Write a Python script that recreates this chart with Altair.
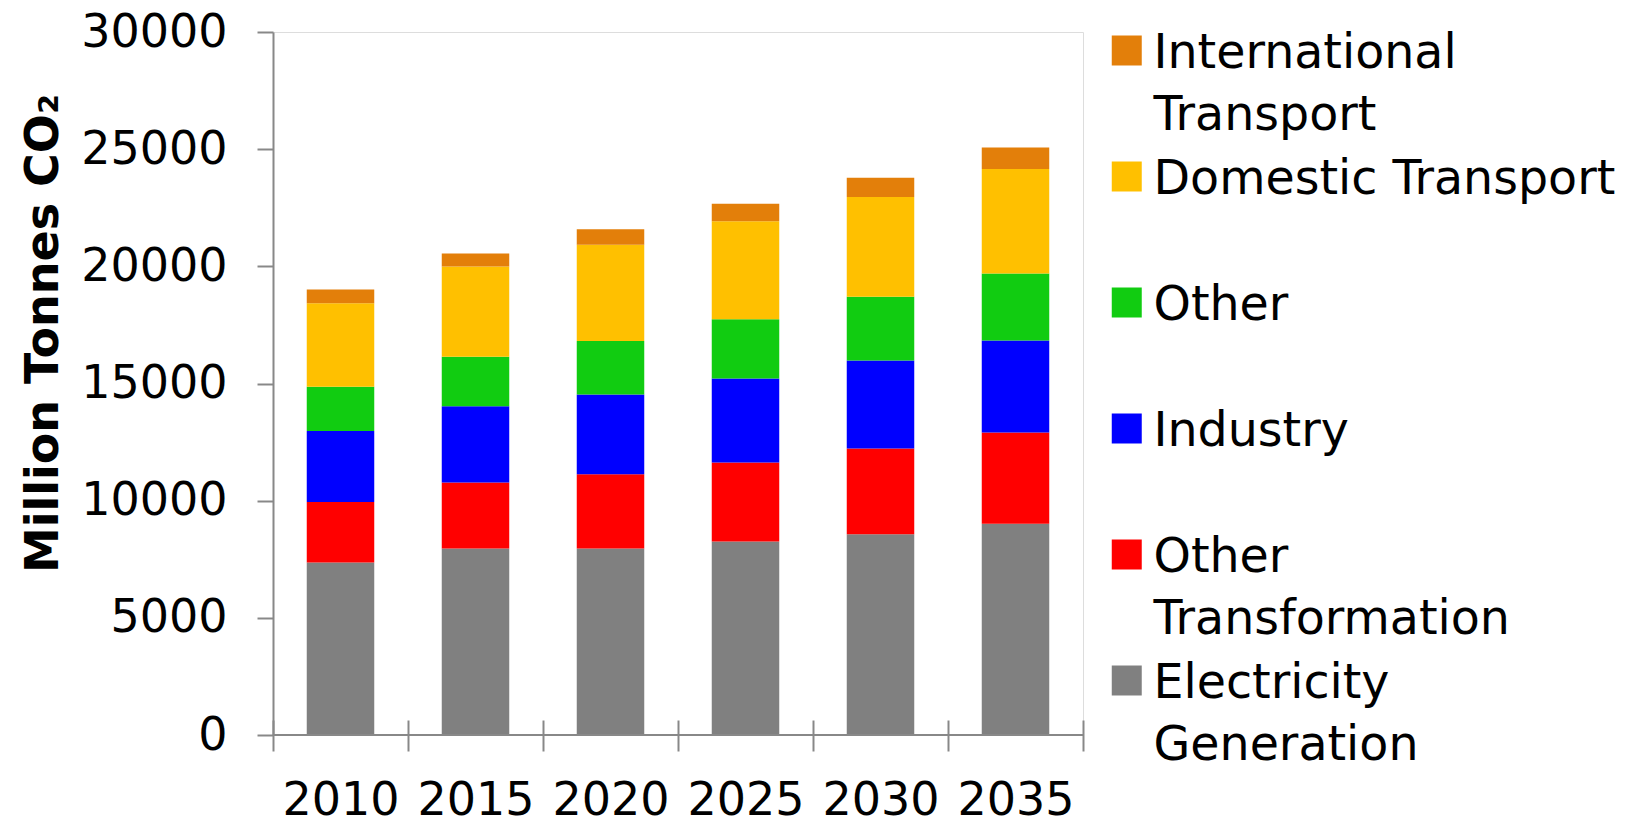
import altair as alt
import pandas as pd

years = ["2010", "2015", "2020", "2025", "2030", "2035"]

# stacked from bottom to top
electricity = [7360, 7955, 7955, 8253, 8565, 9018]
other_transformation = [2580, 2822, 3176, 3375, 3658, 3886]
industry = [3035, 3247, 3404, 3587, 3758, 3928]
other = [1886, 2113, 2283, 2525, 2723, 2864]
domestic_transport = [3559, 3857, 4098, 4182, 4254, 4453]
international_transport = [595, 553, 666, 752, 822, 921]

series_names = [
    "Electricity Generation",
    "Other Transformation",
    "Industry",
    "Other",
    "Domestic Transport",
    "International Transport",
]
series_values = [
    electricity,
    other_transformation,
    industry,
    other,
    domestic_transport,
    international_transport,
]
series_colors = ["#808080", "#FF0000", "#0000FF", "#11CC11", "#FFC000", "#E37F0A"]

rows = []
for idx, (name, vals) in enumerate(zip(series_names, series_values)):
    for yr, v in zip(years, vals):
        rows.append({"year": yr, "series": name, "value": v, "stack_idx": idx})
df = pd.DataFrame(rows)

legend_order = series_names[::-1]
legend_colors = series_colors[::-1]

AXIS_GRAY = "#888888"
FONT = "DejaVu Sans"

bars = alt.Chart(df).mark_bar(width=alt.RelativeBandSize(0.5)).encode(
    x=alt.X(
        "year:N",
        sort=years,
        scale=alt.Scale(paddingInner=0, paddingOuter=0),
        axis=alt.Axis(
            title=None,
            labelAngle=0,
            labelFont=FONT,
            labelFontSize=46,
            labelColor="black",
            labelPadding=27,
            tickBand="extent",
            tickSize=31,
            tickWidth=2,
            tickColor=AXIS_GRAY,
            offset=-15,
            domain=False,
            grid=False,
        ),
    ),
    y=alt.Y(
        "value:Q",
        stack="zero",
        scale=alt.Scale(domain=[0, 30000], nice=False),
        axis=alt.Axis(
            values=[0, 5000, 10000, 15000, 20000, 25000, 30000],
            format="d",
            labelFont=FONT,
            labelFontSize=46,
            labelColor="black",
            labelPadding=30,
            tickSize=16,
            tickWidth=2,
            tickColor=AXIS_GRAY,
            domainColor=AXIS_GRAY,
            domainWidth=2,
            grid=False,
            title="Million Tonnes CO₂",
            titleFont=FONT,
            titleFontSize=46,
            titleFontWeight="bold",
            titleColor="black",
            titleAngle=270,
            titleAlign="center",
            titleBaseline="alphabetic",
            titleX=-216,
            titleY=301,
        ),
    ),
    color=alt.Color(
        "series:N",
        scale=alt.Scale(domain=legend_order, range=legend_colors),
        legend=alt.Legend(
            title=None,
            orient="none",
            legendX=830,
            legendY=12,
            padding=0,
            symbolType="M-1,-2.15H1V-0.15H-1Z",
            symbolSize=900,
            symbolStrokeWidth=0,
            symbolOpacity=1,
            labelFont=FONT,
            labelFontSize=47.5,
            labelColor="black",
            labelBaseline="alphabetic",
            labelOffset=3,
            labelLimit=0,
            gridAlign="all",
            rowPadding=15,
            labelExpr="datum.label == 'Domestic Transport' ? datum.label : split(datum.label, ' ')",
        ),
    ),
    order=alt.Order("stack_idx:Q", sort="ascending"),
)

baseline = alt.Chart(pd.DataFrame({"value": [0]})).mark_rule(
    color=AXIS_GRAY, strokeWidth=2
).encode(y="value:Q")

chart = (
    alt.layer(bars, baseline)
    .properties(
        width=810,
        height=703,
        autosize=alt.AutoSizeParams(type="none"),
        padding={"left": 265, "top": 24, "right": 537, "bottom": 81},
        background="white",
    )
    .configure_view(stroke=None)
    .configure(style={"guide-label": {"lineHeight": 62}})
)

chart.save("out.html", embed_options={"renderer": "svg", "actions": False})
